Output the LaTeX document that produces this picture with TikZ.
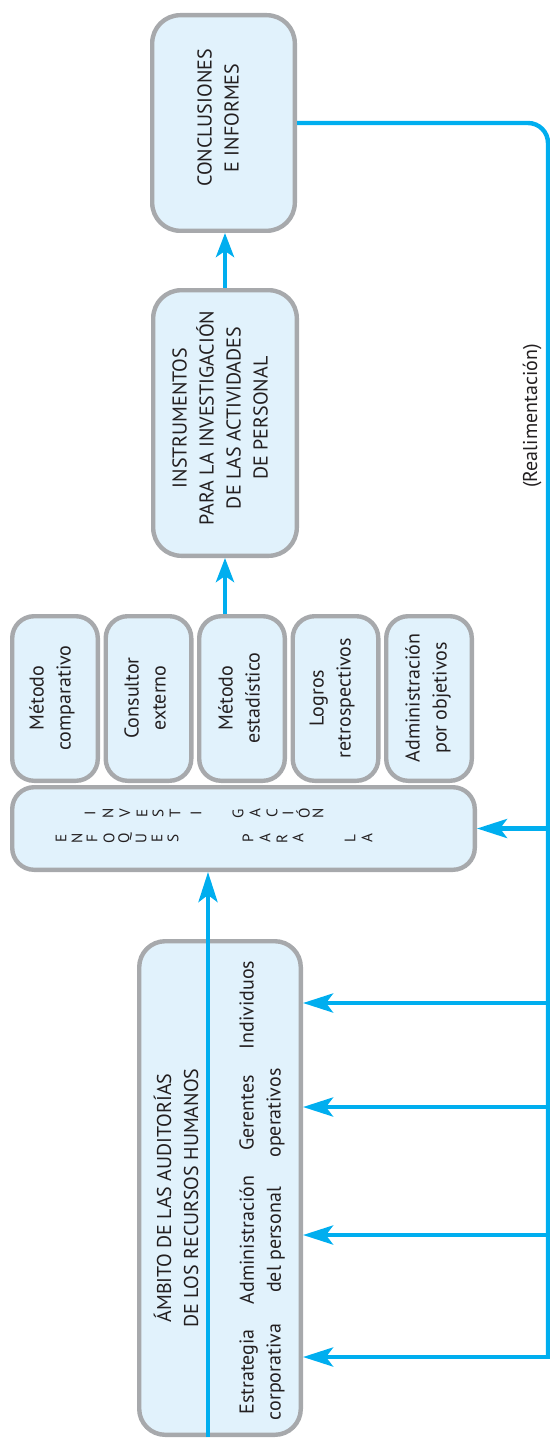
\documentclass[tikz,border=0pt]{standalone}
\usepackage{fontspec}
\setmainfont{PT Sans}
\usetikzlibrary{arrows.meta}
\definecolor{boxfill}{HTML}{E1F2FC}
\definecolor{boxline}{HTML}{A7A9AC}
\definecolor{flowblue}{HTML}{00AEEF}
\definecolor{inktext}{HTML}{231F20}
\tikzset{
  stage/.style={rectangle, rounded corners=14pt, draw=boxline, fill=boxfill, line width=2.2pt, rotate=90, inner sep=0pt},
  method/.style={stage, rounded corners=11pt, minimum width=82.3pt, minimum height=42.8pt},
  lbl/.style={rotate=90, inner sep=0pt, align=center, font=\fontsize{10}{13.5}\selectfont, text=inktext},
  item/.style={lbl, anchor=north},
  letter/.style={rotate=90, inner sep=0pt, font=\fontsize{7.6}{8}\selectfont, text=inktext},
  flow/.style={-{Stealth[length=12pt, width=9pt, inset=3pt]}, draw=flowblue, line width=2.2pt},
  fback/.style={-{Stealth[length=15pt, width=9.5pt, inset=3.5pt]}, draw=flowblue, line width=2.2pt},
  fbline/.style={draw=flowblue, line width=2.2pt},
}
\begin{document}
\begin{tikzpicture}[x=0.5pt,y=-0.5pt]
  \useasboundingbox (0,0) rectangle (550,1439);
  % stages
  \node[stage, minimum width=107.8pt, minimum height=71.3pt] (concl) at (223.5,123) {};
  \node[lbl] (concltxt) at (218,118) {CONCLUSIONES\\E INFORMES};
  \node[stage, minimum width=132.8pt, minimum height=71.8pt] (instr) at (225,423) {};
  \node[lbl] (instrtxt) at (220,418) {INSTRUMENTOS\\PARA LA INVESTIGACIÓN\\DE LAS ACTIVIDADES\\DE PERSONAL};
  \node[method] (metcomp) at (55,698.5) {};
  \node[lbl] (metcomptxt) at (52,698) {Método\\comparativo};
  \node[method] (consext) at (148.5,698.5) {};
  \node[lbl] (consexttxt) at (145,698) {Consultor\\externo};
  \node[method] (metest) at (242,698.5) {};
  \node[lbl] (metesttxt) at (239,698) {Método\\estadístico};
  \node[method] (logros) at (335.5,698.5) {};
  \node[lbl] (logrostxt) at (332,698) {Logros\\retrospectivos};
  \node[method] (admobj) at (429,698.5) {};
  \node[lbl] (admobjtxt) at (428,698) {Administración\\por objetivos};
  \node[stage, rounded corners=11pt, minimum width=41.3pt, minimum height=231.3pt] (enf) at (243.5,828.5) {};
  % stacked letters
  \foreach \ch/\px [count=\i] in {E/61,N/77,F/92,O/109,Q/125,U/141,E/157,S/173,P/248,A/265,R/282,A/298,L/350,A/367}
    \node[letter] (enf\i) at (\px,838.5) {\ch};
  \foreach \ch/\px [count=\i] in {I/90,N/108,V/125,E/142,S/158,T/175,I/196,G/238,A/255,C/272,I/288,Ó/303,N/318}
    \node[letter] (inv\i) at (\px,813.5) {\ch};
  \node[stage, rounded corners=13pt, minimum width=246.8pt, minimum height=80.8pt] (ambito) at (220,1188) {};
  \node[lbl] (ambtitle) at (176,1198) {ÁMBITO DE LAS AUDITORÍAS\\DE LOS RECURSOS HUMANOS};
  \node[item] (indiv) at (239,1005) {Individuos};
  \node[item] (gerop) at (239,1113) {Gerentes\\operativos};
  \node[item] (admper) at (239,1240) {Administración\\del personal};
  \node[item] (estcorp) at (239,1372) {Estrategia\\corporativa};
  \node[lbl] (realim) at (532,416) {(Realimentación)};
  % connectors
  \coordinate (ambase) at (208,1437);
  \coordinate (fbbot) at (548,1357);
  \coordinate (fbcorner) at (550.2,1357);
  \coordinate (fbenf) at (548,828.5);
  \coordinate (fbind) at (548,1003);
  \coordinate (fbger) at (548,1107);
  \coordinate (fbadm) at (548,1235);
  \draw[flow] (instr.west |- metest.east) -- (instr.west);
  \draw[flow] (instr.east) -- (instr.east |- concl.west);
  \draw[fback] (ambase) -- (ambase |- enf.west);
  \draw[fbline, rounded corners=10pt] (concl.south) -| (fbbot);
  \draw[fback] (fbcorner) -- (ambito.south |- fbbot);
  \draw[fback] (fbenf) -- (enf.south);
  \draw[fback] (fbind) -- (ambito.south |- fbind);
  \draw[fback] (fbger) -- (ambito.south |- fbger);
  \draw[fback] (fbadm) -- (ambito.south |- fbadm);
\end{tikzpicture}
\end{document}
